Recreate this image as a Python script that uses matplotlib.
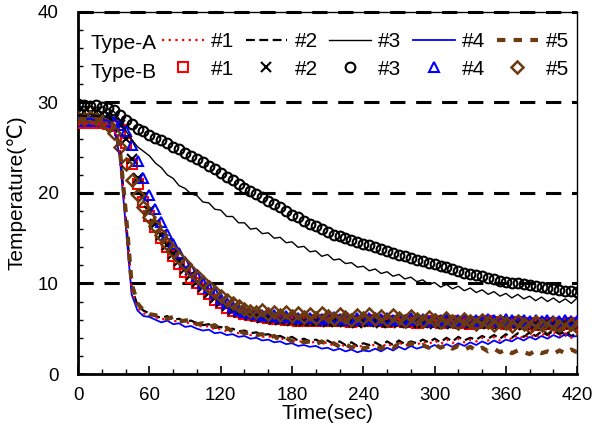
import numpy as np
import matplotlib
matplotlib.use("Agg")
import matplotlib.pyplot as plt
from matplotlib.lines import Line2D

plt.rcParams['font.family'] = ['Liberation Sans', 'DejaVu Sans']

# time axis (sampled every 5 s, 0..420)
time = np.arange(0, 425, 5)

# Type-A (lines)
a1 = [27.6, 27.6, 27.7, 27.6, 27.6, 27.5, 27.2, 24.5, 17.0, 9.2,
      7.3, 6.7, 6.5, 6.3, 6.0, 6.2, 5.8, 5.9, 5.6, 5.7,
      5.4, 5.2, 5.3, 4.9, 5.0, 4.7, 4.8, 4.5, 4.6, 4.3,
      4.4, 4.1, 4.2, 3.9, 4.0, 3.7, 3.9, 3.5, 3.7, 3.4,
      3.6, 3.3, 3.5, 3.1, 3.4, 3.0, 3.3, 2.9, 3.2, 3.0,
      3.3, 2.9, 3.4, 3.0, 3.5, 3.1, 3.4, 3.2, 3.6, 3.3,
      3.7, 3.3, 3.8, 3.4, 3.9, 3.5, 3.8, 3.6, 4.0, 3.7,
      4.1, 3.7, 4.2, 3.8, 4.3, 3.9, 4.4, 4.0, 4.5, 4.1,
      4.6, 4.2, 4.5, 4.0, 4.3]
a2 = [28.6, 28.5, 28.6, 28.5, 28.5, 28.4, 27.8, 24.8, 17.5, 9.5,
      7.6, 7.0, 6.7, 6.4, 6.2, 6.4, 6.0, 6.1, 5.8, 5.9,
      5.6, 5.4, 5.5, 5.1, 5.2, 4.9, 5.0, 4.7, 4.8, 4.5,
      4.6, 4.3, 4.4, 4.1, 4.2, 3.9, 4.1, 3.7, 3.9, 3.6,
      3.8, 3.5, 3.7, 3.3, 3.6, 3.2, 3.5, 3.1, 3.4, 3.2,
      3.5, 3.1, 3.6, 3.2, 3.7, 3.3, 3.6, 3.4, 3.8, 3.5,
      3.9, 3.5, 4.0, 3.6, 4.1, 3.7, 4.0, 3.8, 4.2, 3.9,
      4.3, 3.9, 4.4, 4.0, 4.5, 4.1, 4.6, 4.2, 4.7, 4.3,
      4.8, 4.4, 4.7, 4.2, 4.5]
a3 = [29.6, 29.5, 29.6, 29.4, 29.5, 29.3, 29.0, 28.1, 26.9, 25.9,
      25.1, 24.6, 24.1, 23.3, 22.8, 22.0, 21.6, 20.8, 20.5, 19.9,
      19.7, 19.0, 18.9, 18.2, 18.1, 17.4, 17.4, 16.7, 16.7, 16.0,
      16.1, 15.5, 15.6, 15.0, 15.1, 14.5, 14.6, 14.0, 14.1, 13.5,
      13.6, 13.0, 13.2, 12.6, 12.7, 12.2, 12.3, 11.8, 11.9, 11.4,
      11.6, 11.1, 11.3, 10.8, 11.0, 10.5, 10.7, 10.2, 10.4, 9.9,
      10.1, 9.6, 9.9, 9.4, 9.7, 9.2, 9.5, 9.0, 9.3, 8.8,
      9.1, 8.6, 8.9, 8.4, 8.8, 8.3, 8.6, 8.1, 8.5, 8.0,
      8.4, 7.9, 8.3, 7.8, 8.4]
a4 = [28.2, 28.1, 28.2, 28.0, 28.1, 28.0, 27.4, 24.0, 16.5, 8.8,
      7.0, 6.4, 6.3, 6.0, 5.7, 5.9, 5.5, 5.6, 5.2, 5.3,
      5.0, 4.8, 4.9, 4.5, 4.6, 4.3, 4.4, 4.1, 4.2, 3.9,
      4.0, 3.7, 3.8, 3.5, 3.6, 3.3, 3.4, 3.1, 3.2, 3.0,
      3.1, 2.8, 2.9, 2.6, 2.8, 2.5, 2.7, 2.4, 2.6, 2.5,
      2.8, 2.5, 2.9, 2.6, 3.0, 2.7, 3.1, 2.8, 3.0, 2.9,
      3.2, 2.9, 3.3, 3.0, 3.4, 3.1, 3.5, 3.2, 3.6, 3.3,
      3.7, 3.4, 3.8, 3.6, 4.0, 3.7, 4.1, 3.8, 4.2, 3.9,
      4.3, 4.0, 4.4, 4.1, 4.2]
a5 = [28.0, 28.1, 28.0, 28.1, 28.0, 27.9, 27.5, 25.0, 18.0, 10.0,
      7.8, 7.0, 6.6, 6.5, 6.2, 6.1, 6.3, 5.8, 5.9, 6.0,
      5.5, 5.6, 5.2, 5.4, 4.9, 5.1, 4.7, 4.8, 4.5, 4.6,
      4.3, 4.4, 4.0, 4.2, 3.8, 4.0, 3.6, 3.8, 3.5, 3.6,
      3.3, 3.6, 3.2, 3.4, 3.0, 3.3, 2.9, 3.2, 2.8, 3.0,
      3.1, 2.8, 3.2, 2.9, 3.3, 3.0, 3.4, 3.1, 3.2, 2.9,
      3.3, 2.9, 3.2, 2.8, 3.1, 2.7, 3.0, 2.6, 2.9, 2.5,
      2.8, 2.4, 2.7, 2.3, 2.6, 2.4, 2.2, 2.6, 2.3, 2.5,
      2.2, 2.6, 2.3, 2.7, 2.4]

# Type-B (markers)
b1 = [27.7, 27.8, 27.7, 27.8, 27.7, 27.6, 27.4, 27.0, 25.5, 23.2,
      21.0, 19.0, 17.5, 16.2, 15.0, 14.0, 13.0, 12.2, 11.3, 10.6,
      10.0, 9.4, 8.8, 8.2, 7.8, 7.3, 7.0, 6.8, 6.6, 6.5,
      6.4, 6.3, 6.2, 6.1, 6.2, 6.0, 6.1, 5.9, 6.0, 5.9,
      6.0, 5.8, 5.9, 6.0, 5.8, 5.9, 5.7, 5.9, 5.8, 6.0,
      5.8, 5.9, 5.7, 5.8, 5.9, 5.7, 5.8, 5.6, 5.8, 5.7,
      5.8, 5.6, 5.7, 5.8, 5.6, 5.7, 5.5, 5.7, 5.6, 5.8,
      5.6, 5.7, 5.5, 5.6, 5.7, 5.5, 5.6, 5.4, 5.6, 5.5,
      5.6, 5.4, 5.5, 5.6, 5.4]
b2 = [28.8, 28.9, 28.8, 28.9, 28.7, 28.6, 28.2, 27.5, 26.0, 23.8,
      21.6, 19.6, 18.0, 16.6, 15.4, 14.3, 13.3, 12.5, 11.6, 10.9,
      10.2, 9.6, 9.0, 8.4, 7.9, 7.5, 7.1, 6.9, 6.7, 6.5,
      6.4, 6.2, 6.3, 6.1, 6.0, 6.1, 5.9, 6.0, 5.8, 5.9,
      5.8, 5.9, 5.7, 5.8, 5.9, 5.7, 5.8, 5.6, 5.8, 5.7,
      5.8, 5.6, 5.7, 5.8, 5.6, 5.7, 5.6, 5.8, 5.6, 5.7,
      5.5, 5.7, 5.6, 5.5, 5.7, 5.6, 5.5, 5.6, 5.7, 5.5,
      5.6, 5.5, 5.7, 5.5, 5.6, 5.4, 5.6, 5.5, 5.4, 5.6,
      5.5, 5.4, 5.6, 5.5, 5.4]
b3 = [29.8, 29.7, 29.6, 29.7, 29.5, 29.4, 29.2, 28.6, 28.1, 27.6,
      27.1, 26.8, 26.4, 26.1, 25.8, 25.5, 25.1, 24.8, 24.4, 24.1,
      23.8, 23.4, 23.0, 22.6, 22.2, 21.8, 21.4, 21.0, 20.6, 20.2,
      19.9, 19.5, 19.1, 18.8, 18.4, 18.0, 17.6, 17.3, 16.9, 16.6,
      16.3, 16.0, 15.7, 15.4, 15.2, 15.0, 14.8, 14.6, 14.4, 14.2,
      14.0, 13.8, 13.6, 13.4, 13.2, 13.0, 12.8, 12.6, 12.5, 12.3,
      12.1, 11.9, 11.8, 11.6, 11.4, 11.2, 11.1, 10.9, 10.8, 10.6,
      10.5, 10.3, 10.2, 10.1, 10.0, 9.9, 9.8, 9.7, 9.6, 9.5,
      9.4, 9.3, 9.2, 9.2, 9.1]
b4 = [28.0, 28.1, 28.0, 28.1, 28.0, 27.9, 27.8, 27.5, 26.8, 25.3,
      23.5, 21.6, 19.8, 18.2, 16.8, 15.5, 14.4, 13.4, 12.4, 11.6,
      10.8, 10.1, 9.5, 8.9, 8.3, 7.8, 7.4, 7.1, 6.9, 6.7,
      6.6, 6.5, 6.4, 6.5, 6.3, 6.4, 6.3, 6.2, 6.3, 6.2,
      6.3, 6.1, 6.2, 6.3, 6.1, 6.2, 6.0, 6.2, 6.1, 6.2,
      6.0, 6.1, 6.2, 6.0, 6.1, 6.0, 6.2, 6.0, 6.1, 5.9,
      6.1, 6.0, 6.1, 5.9, 6.0, 6.1, 5.9, 6.0, 5.9, 6.1,
      6.0, 5.9, 6.1, 6.0, 5.9, 6.0, 5.8, 6.0, 5.9, 6.0,
      5.9, 5.8, 6.0, 5.9, 5.8]
b5 = [28.3, 28.2, 28.4, 28.2, 27.9, 27.5, 26.6, 25.1, 23.2, 21.4,
      19.8, 18.5, 17.3, 16.3, 15.3, 14.4, 13.6, 12.8, 12.1, 11.4,
      10.8, 10.2, 9.6, 9.1, 8.6, 8.2, 7.8, 7.5, 7.2, 7.0,
      6.8, 7.1, 6.6, 6.9, 6.5, 6.8, 6.4, 6.7, 6.3, 6.6,
      6.2, 6.7, 6.4, 6.1, 6.6, 6.3, 6.0, 6.5, 6.2, 6.6,
      6.1, 6.4, 6.0, 6.5, 6.2, 5.9, 6.4, 6.1, 5.8, 6.3,
      6.0, 5.7, 6.2, 5.9, 5.6, 6.1, 5.8, 5.5, 6.0, 5.7,
      5.4, 5.9, 5.6, 5.3, 5.8, 5.5, 5.2, 5.7, 5.4, 5.1,
      5.6, 5.3, 5.0, 5.5, 5.2]

brown = '#6b3a10'

fig = plt.figure(figsize=(5.92, 4.4), dpi=100)
ax = fig.add_axes([0.132, 0.150, 0.843, 0.823])

# horizontal dashed reference lines
for yv in [10, 20, 30, 40]:
    ax.axhline(yv, color='black', lw=2.2, dashes=(5, 3.5), zorder=1, clip_on=False)

# markers (Type-B)
mk = dict(linestyle='none', markersize=7, markerfacecolor='none', markeredgewidth=1.5)
ax.plot(time, b3, marker='o', color='black', zorder=3, **mk)
ax.plot(time, b1, marker='s', color='red', zorder=3, **mk)
ax.plot(time, b2, marker='x', color='black', zorder=3, **mk)
ax.plot(time, b4, marker='^', color='blue', zorder=3, **mk)
ax.plot(time, b5, marker='D', color=brown, zorder=3,
        linestyle='none', markersize=6, markerfacecolor='none', markeredgewidth=1.8)

# lines (Type-A)
ax.plot(time, a3, color='black', lw=1.0, zorder=4)
ax.plot(time, a2, color='black', lw=1.6, dashes=(4, 2), zorder=4)
ax.plot(time, a4, color='blue', lw=1.3, zorder=4)
ax.plot(time, a1, color='red', lw=1.6, linestyle=(0, (1, 2)), zorder=4)
ax.plot(time, a5, color=brown, lw=3, dashes=(2, 2), zorder=4)

ax.set_xlim(0, 420)
ax.set_ylim(0, 40)
ax.set_xticks(np.arange(0, 421, 60))
ax.set_xticks(np.arange(0, 421, 20), minor=True)
ax.set_yticks(np.arange(0, 41, 10))
ax.set_yticks(np.arange(0, 41, 2), minor=True)
ax.tick_params(which='both', direction='in', labelsize=13.5, top=False, right=False)
ax.tick_params(axis='x', which='major', length=6, width=1.2, pad=9)
ax.tick_params(axis='y', which='major', length=6, width=1.2, pad=14)
ax.tick_params(which='minor', length=3.5, width=1.0)
ax.spines['left'].set_linewidth(2)
ax.spines['bottom'].set_linewidth(2)
ax.spines['right'].set_linewidth(1)
ax.spines['top'].set_linewidth(1)

ax.set_xlabel('Time(sec)', fontsize=15, labelpad=0)
ax.set_ylabel('Temperature(\u2103)', fontsize=15, labelpad=8)

# legend: two rows (Type-A lines / Type-B markers), five columns
h = []
h.append(Line2D([], [], color='red', lw=1.6, linestyle=(0, (1, 2))))
h.append(Line2D([], [], marker='s', color='red', **mk))
h.append(Line2D([], [], color='black', lw=1.6, dashes=(4, 2)))
h.append(Line2D([], [], marker='x', color='black', **mk))
h.append(Line2D([], [], color='black', lw=1.0))
h.append(Line2D([], [], marker='o', color='black', **mk))
h.append(Line2D([], [], color='blue', lw=1.3))
h.append(Line2D([], [], marker='^', color='blue', **mk))
h.append(Line2D([], [], color=brown, lw=3, dashes=(2, 2)))
h.append(Line2D([], [], marker='D', color=brown, linestyle='none', markersize=6,
                markerfacecolor='none', markeredgewidth=1.8))
labels = ['#1', '#1', '#2', '#2', '#3', '#3', '#4', '#4', '#5', '#5']
ax.legend(h, labels, ncol=5, loc='upper left', bbox_to_anchor=(0.168, 0.945),
          frameon=False, fontsize=15, handlelength=2.0, handletextpad=0.35,
          columnspacing=0.55, labelspacing=0.42, numpoints=1, borderpad=0,
          borderaxespad=0)
ax.text(0.025, 0.912, 'Type-A', transform=ax.transAxes, fontsize=15, va='center')
ax.text(0.025, 0.832, 'Type-B', transform=ax.transAxes, fontsize=15, va='center')

fig.savefig('out.png', dpi=100)
